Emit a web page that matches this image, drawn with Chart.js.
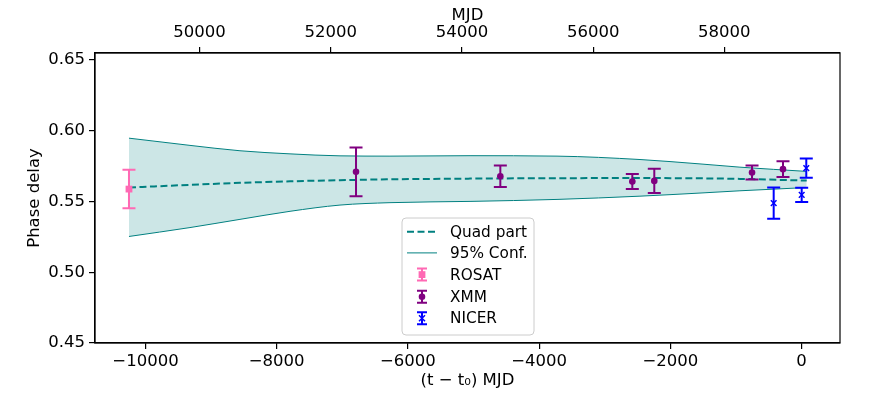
<!DOCTYPE html>
<html>
<head>
<meta charset="utf-8">
<script src="https://cdn.jsdelivr.net/npm/chart.js@4.4.1/dist/chart.umd.min.js"></script>
<style>
  html, body { margin: 0; padding: 0; background: #fff; }
  #wrap { width: 874px; height: 412px; }
</style>
</head>
<body>
<div id="wrap"><canvas id="chart" width="874" height="412"></canvas></div>
<script>
// values; time is t - t0 in days
const t0 = 59176;
const xRange = [-10770, 587];
const yRange = [0.45, 0.655];

// quadratic model and its 95% band
const bandT     = [-10252, -9322, -8560, -7797, -7035, -6273, -5053, -3727, -2462, -1547, -938, 80];
const bandUpper = [0.5948, 0.5897, 0.5859, 0.5837, 0.5823, 0.5821, 0.5824, 0.5821, 0.5797, 0.5766, 0.5743, 0.5713];
const bandLower = [0.5253, 0.5316, 0.5374, 0.5431, 0.5475, 0.5492, 0.5501, 0.5515, 0.5538, 0.5560, 0.5576, 0.5599];
const quadPart  = [0.5599, 0.5618, 0.5632, 0.5643, 0.5651, 0.5657, 0.5662, 0.5665, 0.5666, 0.5664, 0.5660, 0.5648];

// measurements
const rosatT = [-10252];
const rosatY = [0.5588];
const rosatErr = [0.0136];

const xmmT = [-6791, -4591, -2579, -2244, -754, -282];
const xmmY = [0.5710, 0.5679, 0.5641, 0.5646, 0.5705, 0.5729];
const xmmErr = [0.0172, 0.0076, 0.0053, 0.0085, 0.0050, 0.0055];

const nicerT = [-424, 3, 73];
const nicerY = [0.5489, 0.5547, 0.5736];
const nicerErr = [0.0111, 0.0051, 0.0068];

const xTicks = [-10000, -8000, -6000, -4000, -2000, 0];
const mjdTicks = [50000, 52000, 54000, 56000, 58000];
const yTicks = [0.45, 0.50, 0.55, 0.60, 0.65];

const TEAL = '#008080';
const PINK = '#ff69b4';
const PURPLE = '#800080';
const BLUE = '#0000ff';
const FONT = 'DejaVu Sans';

const pts = (xs, ys) => xs.map((x, i) => ({ x: x, y: ys[i] }));
const minus = v => (v < 0 ? '\u2212' + Math.abs(v) : String(v));

// error bars drawn right before their dataset so markers sit on top
const errorBars = {
  id: 'errorBars',
  beforeDatasetDraw(chart, args) {
    const ds = chart.data.datasets[args.index];
    if (!ds.yErr) return;
    const { ctx, scales: { x, y } } = chart;
    ctx.save();
    ctx.strokeStyle = ds.borderColor;
    ctx.lineWidth = 2;
    ds.data.forEach((p, i) => {
      const px = x.getPixelForValue(p.x);
      const top = y.getPixelForValue(p.y + ds.yErr[i]);
      const bot = y.getPixelForValue(p.y - ds.yErr[i]);
      ctx.beginPath();
      ctx.moveTo(px, top); ctx.lineTo(px, bot);
      ctx.moveTo(px - 6.5, top); ctx.lineTo(px + 6.5, top);
      ctx.moveTo(px - 6.5, bot); ctx.lineTo(px + 6.5, bot);
      ctx.stroke();
    });
    ctx.restore();
  }
};

// box round the plot, as matplotlib does
const frame = {
  id: 'frame',
  afterDatasetsDraw(chart) {
    const { ctx, chartArea: a } = chart;
    ctx.save();
    ctx.strokeStyle = '#000';
    ctx.lineWidth = 1.2;
    ctx.strokeRect(a.left, a.top, a.right - a.left, a.bottom - a.top);
    ctx.restore();
  }
};

// legend box inside the plot, bottom centre
const legendBox = {
  id: 'legendBox',
  afterDraw(chart) {
    const ctx = chart.ctx;
    const bx = 402, by = 218, bw = 132, bh = 117;
    ctx.save();
    ctx.fillStyle = 'rgba(255,255,255,0.8)';
    ctx.strokeStyle = '#cccccc';
    ctx.lineWidth = 1;
    ctx.beginPath();
    ctx.roundRect(bx, by, bw, bh, 4);
    ctx.fill();
    ctx.stroke();

    const rows = [231.7, 252.9, 274.6, 296.8, 318.3];
    const hx = 422;

    ctx.strokeStyle = TEAL;
    ctx.lineWidth = 2;
    ctx.setLineDash([7, 3.5]);
    ctx.beginPath(); ctx.moveTo(407, rows[0]); ctx.lineTo(437, rows[0]); ctx.stroke();
    ctx.setLineDash([]);
    ctx.lineWidth = 1;
    ctx.beginPath(); ctx.moveTo(407, rows[1]); ctx.lineTo(437, rows[1]); ctx.stroke();

    const handle = (yc, color, marker) => {
      ctx.strokeStyle = color;
      ctx.fillStyle = color;
      ctx.lineWidth = 2;
      ctx.beginPath();
      ctx.moveTo(hx, yc - 6); ctx.lineTo(hx, yc + 6);
      ctx.moveTo(hx - 5, yc - 6); ctx.lineTo(hx + 5, yc - 6);
      ctx.moveTo(hx - 5, yc + 6); ctx.lineTo(hx + 5, yc + 6);
      ctx.stroke();
      marker(yc);
    };
    handle(rows[2], PINK, yc => ctx.fillRect(hx - 3.4, yc - 3.4, 6.8, 6.8));
    handle(rows[3], PURPLE, yc => { ctx.beginPath(); ctx.arc(hx, yc, 3.3, 0, Math.PI * 2); ctx.fill(); });
    handle(rows[4], BLUE, yc => {
      ctx.lineWidth = 1.5;
      ctx.beginPath();
      ctx.moveTo(hx - 3, yc - 3); ctx.lineTo(hx + 3, yc + 3);
      ctx.moveTo(hx - 3, yc + 3); ctx.lineTo(hx + 3, yc - 3);
      ctx.stroke();
    });

    ctx.fillStyle = '#000';
    ctx.font = '15.3px "' + FONT + '"';
    ctx.textBaseline = 'middle';
    ['Quad part', '95% Conf.', 'ROSAT', 'XMM', 'NICER'].forEach((txt, i) => {
      ctx.fillText(txt, 450, rows[i] + 1);
    });
    ctx.restore();
  }
};

const tickFont = { family: FONT, size: 16.5 };
const tickGrid = { display: true, drawOnChartArea: false, drawTicks: true, tickLength: 6, color: '#000', lineWidth: 1.2 };
const axisBorder = { display: true, color: '#000', width: 1.2 };

new Chart(document.getElementById('chart'), {
  type: 'line',
  data: {
    datasets: [
      {
        label: 'ROSAT', data: pts(rosatT, rosatY), yErr: rosatErr, showLine: false, order: 1,
        borderColor: PINK, backgroundColor: PINK, pointStyle: 'rect', pointRadius: 4.8, pointBorderWidth: 0
      },
      {
        label: 'XMM', data: pts(xmmT, xmmY), yErr: xmmErr, showLine: false, order: 1,
        borderColor: PURPLE, backgroundColor: PURPLE, pointStyle: 'circle', pointRadius: 3.3, pointBorderWidth: 0
      },
      {
        label: 'NICER', data: pts(nicerT, nicerY), yErr: nicerErr, showLine: false, order: 1,
        borderColor: BLUE, backgroundColor: BLUE, pointStyle: 'crossRot', pointRadius: 4, pointBorderWidth: 1.5
      },
      {
        label: 'Quad part', data: pts(bandT, quadPart), order: 2,
        borderColor: TEAL, borderWidth: 2, borderDash: [7, 3.5], pointRadius: 0,
        cubicInterpolationMode: 'monotone', fill: false
      },
      {
        label: '95% Conf.', data: pts(bandT, bandUpper), order: 3,
        borderColor: TEAL, borderWidth: 1, pointRadius: 0, cubicInterpolationMode: 'monotone',
        fill: '+1', backgroundColor: 'rgba(0,128,128,0.2)'
      },
      {
        label: 'lower', data: pts(bandT, bandLower), order: 3,
        borderColor: TEAL, borderWidth: 1, pointRadius: 0, cubicInterpolationMode: 'monotone', fill: false
      }
    ]
  },
  options: {
    responsive: false,
    animation: false,
    layout: { padding: { left: 0, right: 34, top: 0, bottom: 0 } },
    plugins: { legend: { display: false }, tooltip: { enabled: false } },
    scales: {
      x: {
        type: 'linear', position: 'bottom', min: xRange[0], max: xRange[1],
        afterFit: s => { s.height = 69; },
        afterBuildTicks: s => { s.ticks = xTicks.map(v => ({ value: v })); },
        ticks: { font: tickFont, color: '#000', padding: 3, maxRotation: 0, autoSkip: false, callback: v => minus(v) },
        grid: tickGrid, border: axisBorder,
        title: { display: true, text: '(t \u2212 t\u2080) MJD', color: '#000', font: tickFont, padding: { top: 0, bottom: 21 } }
      },
      x2: {
        type: 'linear', position: 'top', min: xRange[0] + t0, max: xRange[1] + t0,
        afterFit: s => { s.height = 53; },
        afterBuildTicks: s => { s.ticks = mjdTicks.map(v => ({ value: v })); },
        ticks: { font: tickFont, color: '#000', padding: 4, maxRotation: 0, autoSkip: false, callback: v => String(v) },
        grid: tickGrid, border: axisBorder,
        title: { display: true, text: 'MJD', color: '#000', font: tickFont, padding: { top: 6, bottom: 0 } }
      },
      y: {
        type: 'linear', position: 'left', min: yRange[0], max: yRange[1],
        afterFit: s => { s.width = 95; },
        afterBuildTicks: s => { s.ticks = yTicks.map(v => ({ value: v })); },
        ticks: { font: tickFont, color: '#000', padding: 4, autoSkip: false, callback: v => v.toFixed(2) },
        grid: tickGrid, border: axisBorder,
        title: { display: true, text: 'Phase delay', color: '#000', font: tickFont, padding: { top: 25, bottom: 0 } }
      }
    }
  },
  plugins: [errorBars, frame, legendBox]
});
</script>
</body>
</html>
